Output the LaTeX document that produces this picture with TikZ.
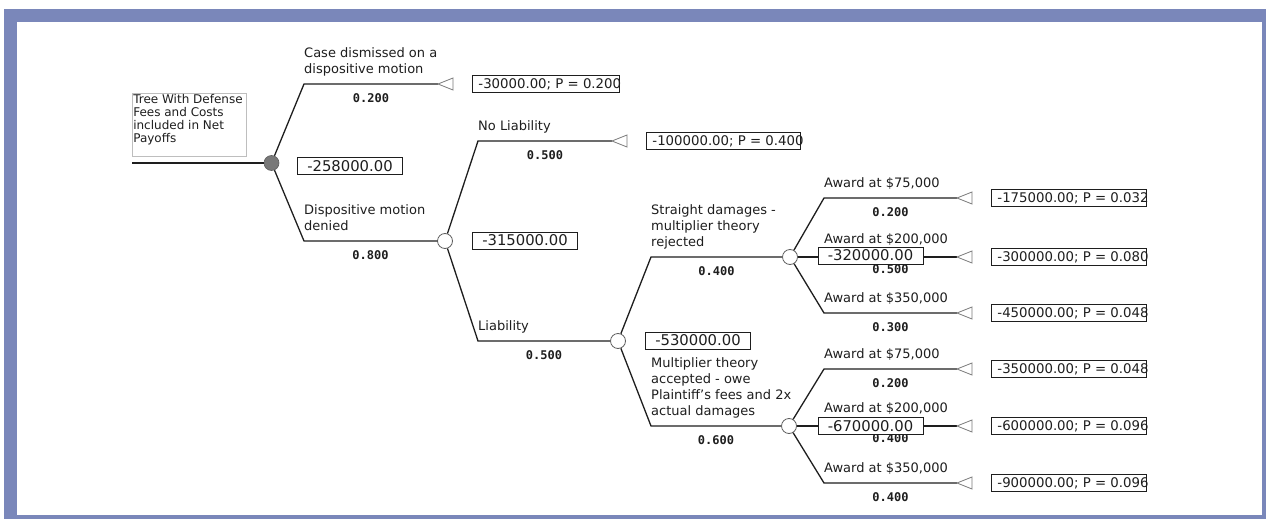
\documentclass[tikz,border=0pt]{standalone}
\usepackage{fontspec}
\setmainfont{DejaVu Sans}
\newfontfamily\probfont{DejaVu Sans Mono}
\usetikzlibrary{calc}
\definecolor{framecol}{RGB}{122,135,186}
\definecolor{ink}{RGB}{30,30,30}
\definecolor{circedge}{RGB}{95,95,95}
\definecolor{rootfill}{RGB}{120,120,120}
\definecolor{tribord}{RGB}{120,120,120}
\definecolor{titleedge}{RGB}{190,190,190}
\newcommand\tbtext[2]{\makebox[#1][l]{#2}}
\begin{document}
\begin{tikzpicture}[x=1pt,y=-1pt,
  branch/.style={draw=ink, line width=1.3pt},
  lbl/.style={anchor=south west, inner sep=0pt, align=left, font=\fontsize{13}{16}\selectfont, text=ink, yshift=5.7pt},
  prob/.style={font=\probfont\bfseries\fontsize{12}{14}\selectfont, text=ink, inner sep=0pt, yshift=-14pt},
  valbox/.style={draw=ink, fill=white, line width=0.9pt, minimum width=105pt, minimum height=17pt, inner sep=0pt, font=\fontsize{14.8}{15}\selectfont, text=ink},
  termbox/.style={draw=ink, fill=white, line width=0.9pt, anchor=west, minimum height=17pt, inner xsep=6pt, inner ysep=0pt, font=\fontsize{13.3}{15}\selectfont, text=ink},
  chance/.style={circle, draw=circedge, fill=white, line width=0.8pt, minimum size=15pt, inner sep=0pt},
  rootnode/.style={circle, draw=circedge, fill=rootfill, line width=0.6pt, minimum size=15pt, inner sep=0pt},
  endtri/.style={draw=tribord, line width=0.8pt, fill=white, line join=miter},
  titlebox/.style={draw=titleedge, line width=0.6pt, anchor=north west, inner xsep=1pt, inner ysep=1.5pt, font=\fontsize{12}{13}\selectfont, text=ink}
]
\useasboundingbox (0,0) rectangle (1266,519);
\fill[framecol] (4,9) rectangle (1266,519);
\fill[white] (17,22) rectangle (1262,515);

% decision / chance nodes
\node[titlebox] (title) at (132,93) {\parbox[c][60pt][t]{112pt}{\raggedright Tree With Defense\\Fees and Costs\\included in Net\\Payoffs}};
\node[rootnode] (root) at (271.5,163) {};
\node[chance] (n1) at (445,241) {};
\node[chance] (n2) at (618,341) {};
\node[chance] (n3) at (790,257) {};
\node[chance] (n4) at (789,426) {};

% corners and terminal tips
\coordinate (s0) at (132,163);
\coordinate (c1) at (304,84);   \coordinate (t1) at (438,84);
\coordinate (c2) at (304,241);
\coordinate (c3) at (478,141);  \coordinate (t3) at (612,141);
\coordinate (c4) at (478,341);
\coordinate (c5) at (651,257);
\coordinate (c6) at (651,426);
\coordinate (c7) at (824,198);  \coordinate (t7) at (957,198);
\coordinate (c8) at (824,257);  \coordinate (t8) at (957,257);
\coordinate (c9) at (824,313);  \coordinate (t9) at (957,313);
\coordinate (c10) at (824,369); \coordinate (t10) at (957,369);
\coordinate (c11) at (824,426); \coordinate (t11) at (957,426);
\coordinate (c12) at (824,483); \coordinate (t12) at (957,483);

% branches
\draw[branch] (s0) -- (root);
\draw[branch] (root) -- (c1) -- (t1);
\draw[branch] (root) -- (c2) -- (n1);
\draw[branch] (n1) -- (c3) -- (t3);
\draw[branch] (n1) -- (c4) -- (n2);
\draw[branch] (n2) -- (c5) -- (n3);
\draw[branch] (n2) -- (c6) -- (n4);
\draw[branch] (n3) -- (c7) -- (t7);
\draw[branch] (n3) -- (t8);
\draw[branch] (n3) -- (c9) -- (t9);
\draw[branch] (n4) -- (c10) -- (t10);
\draw[branch] (n4) -- (t11);
\draw[branch] (n4) -- (c12) -- (t12);

% terminal triangles
\foreach \t in {t1,t3,t7,t8,t9,t10,t11,t12}
  \draw[endtri] (\t) -- ++(15,-6) -- ++(0,12) -- cycle;

% branch labels
\node[lbl] (l1) at (c1) {Case dismissed on a\\dispositive motion\strut};
\node[lbl] (l2) at (c2) {Dispositive motion\\denied\strut};
\node[lbl] (l3) at (c3) {No Liability\strut};
\node[lbl] (l4) at (c4) {Liability\strut};
\node[lbl] (l5) at (c5) {Straight damages -\\multiplier theory\\rejected\strut};
\node[lbl] (l6) at (c6) {Multiplier theory\\accepted - owe\\Plaintiff's fees and 2x\\actual damages\strut};
\node[lbl] (l7) at (c7) {Award at \$75,000\strut};
\node[lbl, yshift=3pt] (l8) at (c8) {Award at \$200,000\strut};
\node[lbl] (l9) at (c9) {Award at \$350,000\strut};
\node[lbl] (l10) at (c10) {Award at \$75,000\strut};
\node[lbl, yshift=3pt] (l11) at (c11) {Award at \$200,000\strut};
\node[lbl] (l12) at (c12) {Award at \$350,000\strut};

% probabilities
\node[prob] (p1) at ($(c1)!0.5!(t1)$) {0.200};
\node[prob] (p2) at ($(c2)!0.5!(n1.west)$) {0.800};
\node[prob] (p3) at ($(c3)!0.5!(t3)$) {0.500};
\node[prob] (p4) at ($(c4)!0.5!(n2.west)$) {0.500};
\node[prob] (p5) at ($(c5)!0.5!(n3.west)$) {0.400};
\node[prob] (p6) at ($(c6)!0.5!(n4.west)$) {0.600};
\node[prob] (p7) at ($(c7)!0.5!(t7)$) {0.200};
\node[prob, yshift=2pt] (p8) at ($(c8)!0.5!(t8)$) {0.500};
\node[prob] (p9) at ($(c9)!0.5!(t9)$) {0.300};
\node[prob] (p10) at ($(c10)!0.5!(t10)$) {0.200};
\node[prob, yshift=2pt] (p11) at ($(c11)!0.5!(t11)$) {0.400};
\node[prob] (p12) at ($(c12)!0.5!(t12)$) {0.400};

% expected values
\node[valbox] (v0) at (350,166) {-258000.00};
\node[valbox] (v1) at (525,240.5) {-315000.00};
\node[valbox] (v2) at (698,340.5) {-530000.00};
\node[valbox] (v3) at (870.5,255.5) {-320000.00};
\node[valbox] (v4) at (870.5,426) {-670000.00};

% terminal payoffs
\node[termbox] (e1) at ($(t1)+(34,0)$) {\tbtext{135pt}{-30000.00; P = 0.200}};
\node[termbox] (e3) at ($(t3)+(34,0)$) {\tbtext{142pt}{-100000.00; P = 0.400}};
\node[termbox] (e7) at ($(t7)+(34,0)$) {\tbtext{143pt}{-175000.00; P = 0.032}};
\node[termbox] (e8) at ($(t8)+(34,0)$) {\tbtext{143pt}{-300000.00; P = 0.080}};
\node[termbox] (e9) at ($(t9)+(34,0)$) {\tbtext{143pt}{-450000.00; P = 0.048}};
\node[termbox] (e10) at ($(t10)+(34,0)$) {\tbtext{143pt}{-350000.00; P = 0.048}};
\node[termbox] (e11) at ($(t11)+(34,0)$) {\tbtext{143pt}{-600000.00; P = 0.096}};
\node[termbox] (e12) at ($(t12)+(34,0)$) {\tbtext{143pt}{-900000.00; P = 0.096}};
\end{tikzpicture}
\end{document}
